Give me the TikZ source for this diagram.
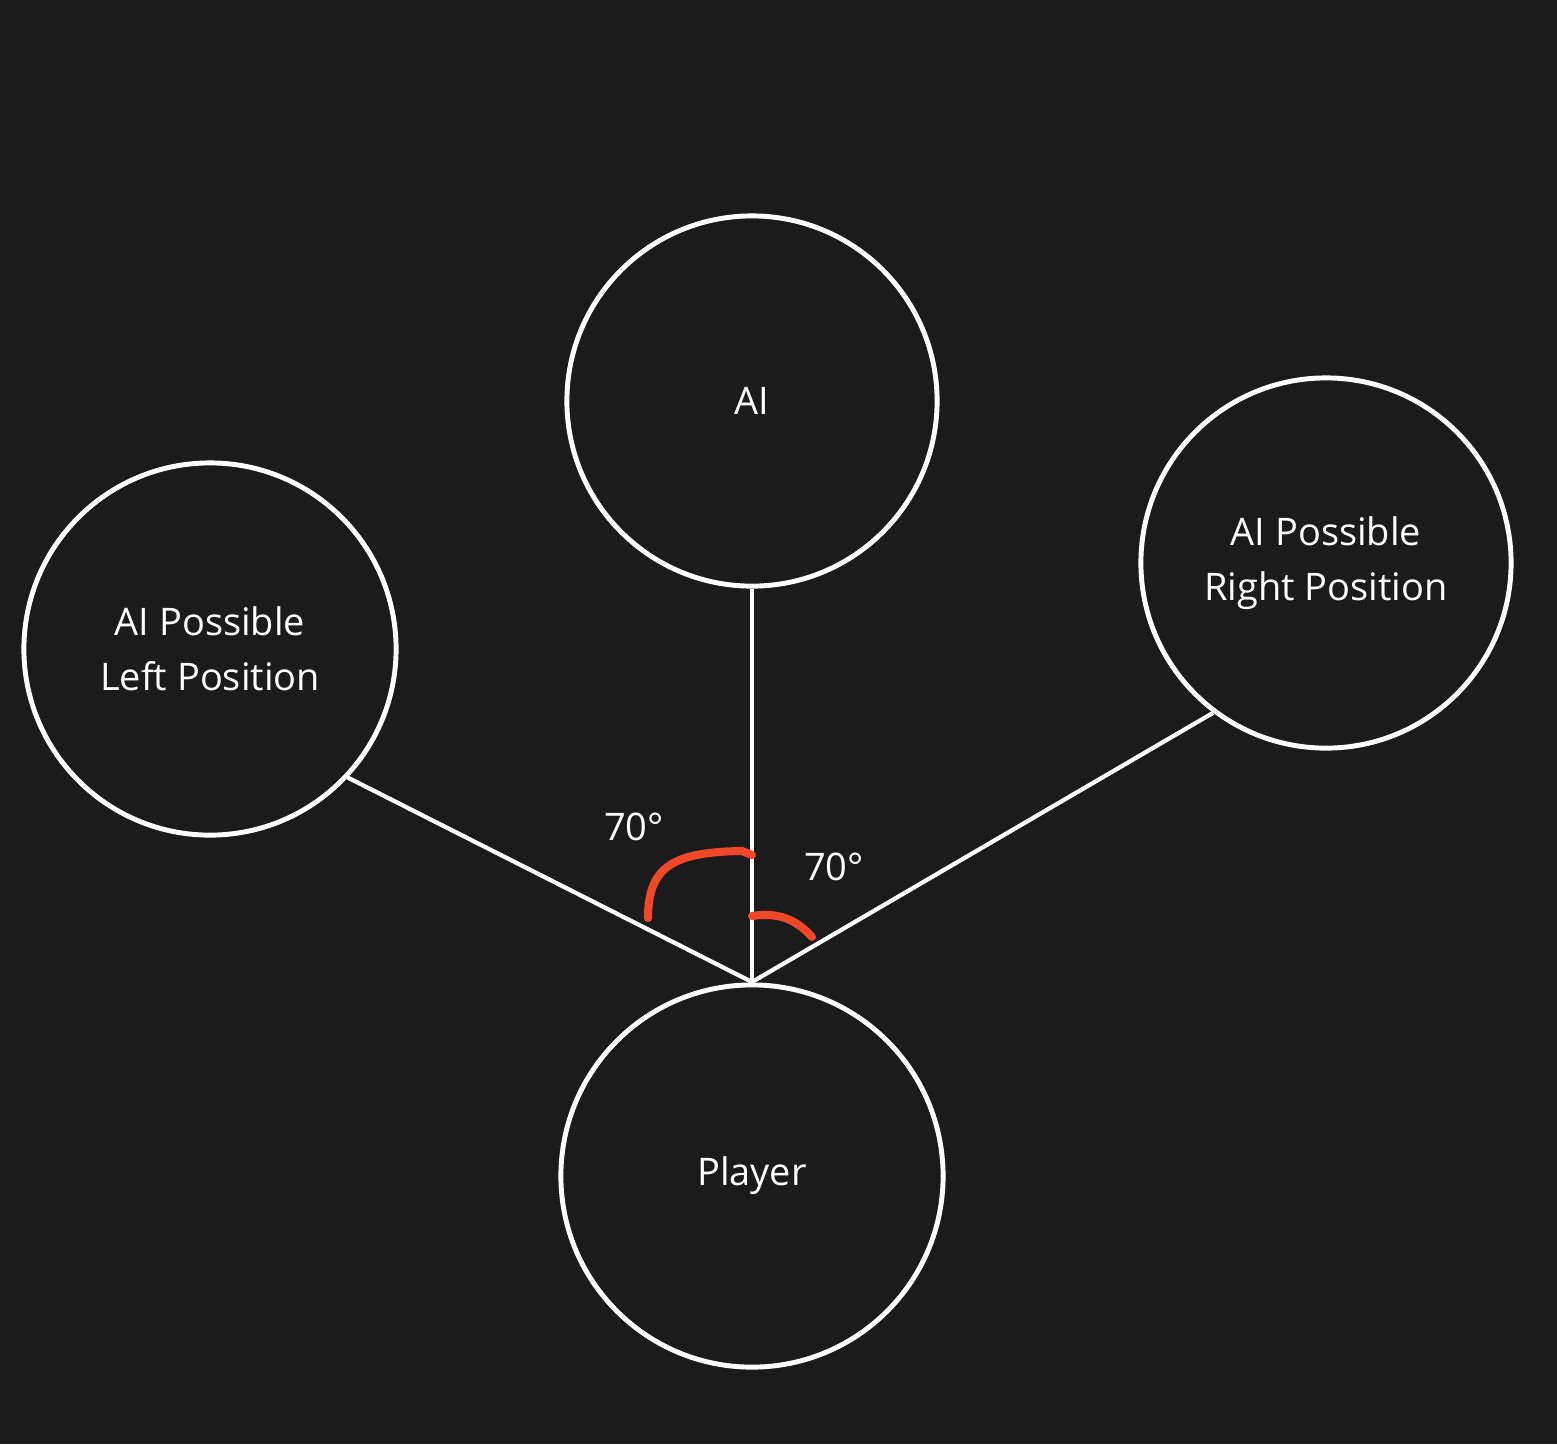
\documentclass[tikz,border=0pt]{standalone}
\usepackage{fontspec}
\setmainfont{Open Sans}
\usepackage{xcolor}
\usepackage{tikz}
\usetikzlibrary{positioning, calc}
\definecolor{bgdark}{RGB}{27, 27, 27}
\definecolor{markred}{RGB}{238, 72, 40}
\tikzset{
    spot/.style={draw=white, line width=1.4pt, circle, text=white, align=center,
        font=\fontsize{10.8pt}{15.6pt}\selectfont},
    link/.style={draw=white, line width=1.2pt},
    anglemark/.style={draw=markred, line width=2.3pt, line cap=round},
    anglelabel/.style={text=white, font=\fontsize{10.8pt}{13pt}\selectfont}
}

\begin{document}
\begin{tikzpicture}[x=0.01cm, y=-0.01cm]
        % background and page size
        \fill[bgdark] (0,0) rectangle (1557,1444);

        \node[spot, minimum size=3.70cm] (ai) at (752,401) {AI};
        \node[spot, minimum size=3.72cm] (leftpos) at (210,649) {AI Possible\\Left Position};
        \node[spot, minimum size=3.70cm] (rightpos) at (1326,563) {AI Possible\\Right Position};
        \node[spot, minimum size=3.82cm] (player) at (752,1176) {Player};
        \coordinate (apex) at (752,982);

        % lines of sight
        \draw[link] (ai.south) -- (apex);
        \draw[link] (leftpos.-43) -- (apex);
        \draw[link] (rightpos.233) -- (apex);

        % angle marks
        \draw[anglemark] (648,918) .. controls (648,866) and (674,852) .. (742,851) -- (752,855);
        \draw[anglemark] (752,916) .. controls (784,911) and (800,924) .. (812,937);
        \node[anglelabel] (leftangle) at (634,827) {70°};
        \node[anglelabel] (rightangle) at (834,867) {70°};
    \end{tikzpicture}
\end{document}
